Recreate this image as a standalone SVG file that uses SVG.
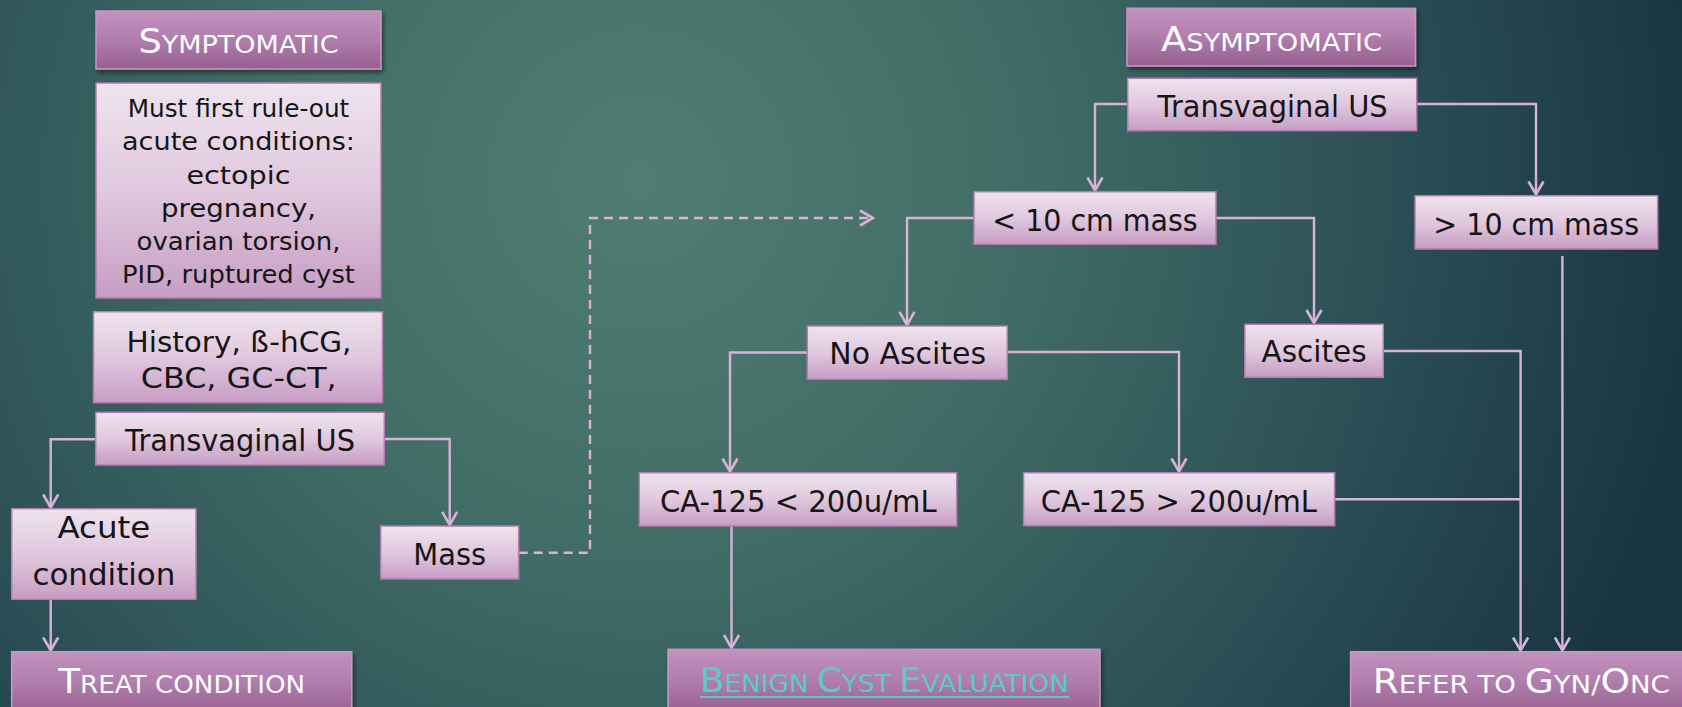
<svg xmlns="http://www.w3.org/2000/svg" width="1682" height="707" viewBox="0 0 1682 707">
<defs>
<radialGradient id="bg" gradientUnits="userSpaceOnUse" cx="640" cy="180" r="1060">
<stop offset="0" stop-color="#507d72"/>
<stop offset="0.35" stop-color="#426d66"/>
<stop offset="0.7" stop-color="#2b5056"/>
<stop offset="1" stop-color="#1a3542"/>
</radialGradient>
<linearGradient id="lg" x1="0" y1="0" x2="0" y2="1">
<stop offset="0" stop-color="#efe3ee"/>
<stop offset="0.5" stop-color="#e0c8de"/>
<stop offset="1" stop-color="#c79dc4"/>
</linearGradient>
<linearGradient id="dg" x1="0" y1="0" x2="0" y2="1">
<stop offset="0" stop-color="#c292bf"/>
<stop offset="0.5" stop-color="#b07dac"/>
<stop offset="1" stop-color="#966090"/>
</linearGradient>
<filter id="sh" x="-10%" y="-20%" width="120%" height="150%">
<feDropShadow dx="2" dy="3" stdDeviation="2" flood-color="#000" flood-opacity="0.45"/>
</filter>
<marker id="ah" markerUnits="userSpaceOnUse" markerWidth="24" markerHeight="24" viewBox="-16 -12 24 24" refX="0" refY="0" orient="auto" overflow="visible">
<path d="M-13,-7.5 L0,0 L-13,7.5" fill="none" stroke="#d8b2d8" stroke-width="2.6"/>
</marker>
<style>
.lb{fill:url(#lg);stroke:#b67bb2;stroke-width:1.5}
.db{fill:url(#dg);stroke:#c898c4;stroke-width:1.5;filter:url(#sh)}
.t{font-family:"DejaVu Sans","Liberation Sans",sans-serif;fill:#151515;text-anchor:middle}
.h{font-family:"DejaVu Sans","Liberation Sans",sans-serif;fill:#ffffff;text-anchor:middle;font-size:25px}
.h .b{font-size:34px}
.c{fill:none;stroke:#d8b2d8;stroke-width:2.4}
.ar{marker-end:url(#ah)}
.dash{stroke-dasharray:9 6}
</style>
</defs>
<rect x="0" y="0" width="1682" height="707" fill="url(#bg)"/>

<g id="connectors">
<path class="c ar" d="M95.7 439.3 H50.7 V507.5"/>
<path class="c ar" d="M384.3 439 H449.7 V524.8"/>
<path class="c ar" d="M50.7 599.3 V650.5"/>
<path class="c dash ar" d="M518.7 552.7 H590 V218 H873"/>
<path class="c ar" d="M1127.7 104 H1095 V190.5"/>
<path class="c ar" d="M1416.6 104 H1536 V194.5"/>
<path class="c ar" d="M974 218 H907 V324.8"/>
<path class="c ar" d="M1216 218 H1314 V323"/>
<path class="c ar" d="M807.3 352.5 H730 V471.5"/>
<path class="c ar" d="M1007.3 352 H1179 V471.5"/>
<path class="c ar" d="M1383 351 H1520.6 V650.5"/>
<path class="c" d="M1334.6 499.3 H1520.6"/>
<path class="c ar" d="M1562.4 256 V650.5"/>
<path class="c ar" d="M731.5 526 V648"/>
</g>

<g id="symptomatic">
<rect class="db" x="96" y="11" width="285" height="58"/>
<text class="h" x="238.5" y="53.3" textLength="200" lengthAdjust="spacingAndGlyphs"><tspan class="b">S</tspan>YMPTOMATIC</text>
</g>

<g id="rule-out">
<rect class="lb" x="96" y="83" width="285" height="215"/>
<g class="t" font-size="24">
<text x="238.5" y="117.3" textLength="221.7" lengthAdjust="spacingAndGlyphs">Must first rule-out</text>
<text x="238.5" y="150.4" textLength="233" lengthAdjust="spacingAndGlyphs">acute conditions:</text>
<text x="238.5" y="183.6" textLength="104" lengthAdjust="spacingAndGlyphs">ectopic</text>
<text x="238.5" y="216.7" textLength="155" lengthAdjust="spacingAndGlyphs">pregnancy,</text>
<text x="238.5" y="249.9" textLength="204" lengthAdjust="spacingAndGlyphs">ovarian torsion,</text>
<text x="238.5" y="283" textLength="233" lengthAdjust="spacingAndGlyphs">PID, ruptured cyst</text>
</g>
</g>

<g id="history">
<rect class="lb" x="93.5" y="311.7" width="289" height="91"/>
<g class="t" font-size="28">
<text x="239" y="351.7" textLength="225" lengthAdjust="spacingAndGlyphs">History, ß-hCG,</text>
<text x="238.7" y="388.3" textLength="196" lengthAdjust="spacingAndGlyphs">CBC, GC-CT,</text>
</g>
</g>

<g id="tvus-left">
<rect class="lb" x="95.7" y="412.3" width="288.6" height="52.7"/>
<text class="t" font-size="31" x="240" y="451" textLength="230" lengthAdjust="spacingAndGlyphs">Transvaginal US</text>
</g>

<g id="acute">
<rect class="lb" x="11.7" y="508.7" width="184.3" height="90.6"/>
<g class="t" font-size="30">
<text x="103.9" y="538.3" textLength="93" lengthAdjust="spacingAndGlyphs">Acute</text>
<text x="103.9" y="585" textLength="143" lengthAdjust="spacingAndGlyphs">condition</text>
</g>
</g>

<g id="treat">
<rect class="db" x="11.7" y="651.7" width="340" height="62"/>
<text class="h" x="181.7" y="693.3" textLength="247" lengthAdjust="spacingAndGlyphs"><tspan class="b">T</tspan>REAT CONDITION</text>
</g>

<g id="mass">
<rect class="lb" x="380.7" y="526" width="138" height="53"/>
<text class="t" font-size="30" x="449.7" y="565" textLength="72.7" lengthAdjust="spacingAndGlyphs">Mass</text>
</g>

<g id="asymptomatic">
<rect class="db" x="1127" y="8.3" width="288.5" height="57.7"/>
<text class="h" x="1271.5" y="50.7" textLength="221" lengthAdjust="spacingAndGlyphs"><tspan class="b">A</tspan>SYMPTOMATIC</text>
</g>

<g id="tvus-right">
<rect class="lb" x="1127.7" y="78.3" width="289" height="52.4"/>
<text class="t" font-size="31" x="1272.6" y="117" textLength="230" lengthAdjust="spacingAndGlyphs">Transvaginal US</text>
</g>

<g id="lt10">
<rect class="lb" x="974" y="191.7" width="242" height="52.6"/>
<text class="t" font-size="31" x="1095" y="231" textLength="205.4" lengthAdjust="spacingAndGlyphs">&lt; 10 cm mass</text>
</g>

<g id="gt10">
<rect class="lb" x="1415" y="195.7" width="242.7" height="53.3"/>
<text class="t" font-size="31" x="1536.2" y="235" textLength="205.7" lengthAdjust="spacingAndGlyphs">&gt; 10 cm mass</text>
</g>

<g id="no-ascites">
<rect class="lb" x="807.3" y="326" width="200" height="53.3"/>
<text class="t" font-size="31" x="907.7" y="364" textLength="156.7" lengthAdjust="spacingAndGlyphs">No Ascites</text>
</g>

<g id="ascites">
<rect class="lb" x="1244.8" y="324.3" width="138.5" height="53"/>
<text class="t" font-size="31" x="1314" y="362.3" textLength="105" lengthAdjust="spacingAndGlyphs">Ascites</text>
</g>

<g id="ca-low">
<rect class="lb" x="639.3" y="472.7" width="317.4" height="53.3"/>
<text class="t" font-size="31" x="798.3" y="511.7" textLength="276.7" lengthAdjust="spacingAndGlyphs">CA-125 &lt; 200u/mL</text>
</g>

<g id="ca-high">
<rect class="lb" x="1023.6" y="472.7" width="311" height="53"/>
<text class="t" font-size="31" x="1178.9" y="511.7" textLength="276.3" lengthAdjust="spacingAndGlyphs">CA-125 &gt; 200u/mL</text>
</g>

<g id="benign">
<rect class="db" x="668" y="649.3" width="432" height="64"/>
<text class="h" x="884.5" y="691.7" style="fill:#5ccbc6" textLength="369" lengthAdjust="spacingAndGlyphs"><tspan class="b">B</tspan>ENIGN <tspan class="b">C</tspan>YST <tspan class="b">E</tspan>VALUATION</text>
<line x1="700" y1="697" x2="1069" y2="697" stroke="#5ccbc6" stroke-width="2"/>
</g>

<g id="refer">
<rect class="db" x="1350.6" y="651.7" width="345" height="62"/>
<text class="h" x="1521.3" y="693.3" textLength="297" lengthAdjust="spacingAndGlyphs"><tspan class="b">R</tspan>EFER TO <tspan class="b">G</tspan>YN/<tspan class="b">O</tspan>NC</text>
</g>
</svg>
